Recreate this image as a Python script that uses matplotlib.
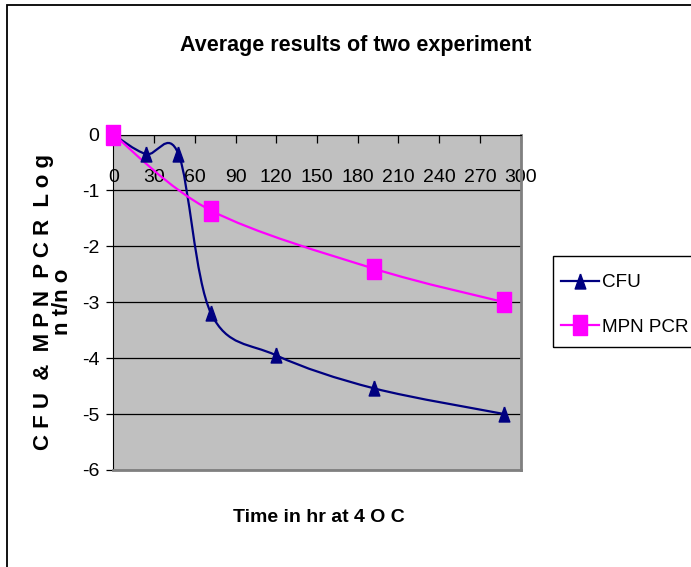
import numpy as np
import matplotlib.pyplot as plt
from matplotlib.path import Path
from matplotlib.patches import PathPatch, Rectangle
from matplotlib.lines import Line2D

plt.rcParams['font.family'] = ['Liberation Sans Narrow', 'Liberation Sans', 'DejaVu Sans']
plt.rcParams['axes.unicode_minus'] = False

hours_cfu = [0, 24, 48, 72, 120, 192, 288]
log_cfu = [0, -0.35, -0.35, -3.2, -3.95, -4.54, -5.0]
hours_pcr = [0, 72, 192, 288]
log_pcr = [0, -1.36, -2.4, -3.0]

x_ticks = list(range(0, 301, 30))
y_ticks = list(range(-6, 1))

W, H = 691, 567


def smooth_path(xs, ys):
    # excel-like smoothed line: cubic bezier, catmull-rom control points
    pts = np.column_stack([xs, ys]).astype(float)
    n = len(pts)
    verts = [pts[0]]
    codes = [Path.MOVETO]
    for i in range(n - 1):
        p0 = pts[max(i - 1, 0)]
        p1 = pts[i]
        p2 = pts[i + 1]
        p3 = pts[min(i + 2, n - 1)]
        verts += [p1 + (p2 - p0) / 6, p2 - (p3 - p1) / 6, p2]
        codes += [Path.CURVE4] * 3
    return Path(verts, codes)


tri = [(0, 1), (-0.71, -1), (0.71, -1), (0, 1)]
box = [(-0.7, -1), (0.7, -1), (0.7, 1), (-0.7, 1), (-0.7, -1)]

fig = plt.figure(figsize=(W / 100, H / 100), dpi=100)
ax = fig.add_axes([113.3 / W, 1 - 470 / H, (520.7 - 113.3) / W, (470 - 134.5) / H])
ax.set_facecolor('#C0C0C0')
ax.set_xlim(0, 300)
ax.set_ylim(-6, 0)
ax.set_xticks(x_ticks)
ax.set_yticks(y_ticks)
ax.yaxis.grid(True, color='black', lw=0.9)
ax.set_axisbelow(True)

ax.spines['bottom'].set_position(('data', 0))
ax.spines['bottom'].set_color('black')
ax.spines['left'].set_color('black')
ax.spines['top'].set_visible(False)
ax.spines['right'].set_color('#808080')
ax.spines['right'].set_linewidth(2)
ax.add_line(Line2D([0, 1], [0, 0], transform=ax.transAxes, color='#808080',
                   lw=2, clip_on=False, zorder=3))

ax.tick_params(axis='x', direction='out', length=6, width=0.9, pad=19, labelsize=14)
ax.tick_params(axis='y', direction='out', length=5, width=0.9, pad=5, labelsize=14)

ax.add_patch(PathPatch(smooth_path(hours_cfu, log_cfu), fill=False,
                       ec='#000080', lw=1.6, zorder=4))
ax.add_patch(PathPatch(smooth_path(hours_pcr, log_pcr), fill=False,
                       ec='#FF00FF', lw=1.6, zorder=4))
ax.plot(hours_cfu, log_cfu, ls='none', marker=tri, ms=10.8, color='#000080',
        zorder=5, clip_on=False)
ax.plot(hours_pcr, log_pcr, ls='none', marker=box, ms=14.4, color='#FF00FF',
        zorder=5, clip_on=False)

fig.text(356 / W, 1 - 46 / H, 'Average results of two experiment', ha='center',
         va='center', fontsize=15.5, fontweight='bold')
fig.text(319 / W, 1 - 518 / H, 'Time in hr at 4 O C', ha='center', va='center',
         fontsize=14, fontweight='bold')
fig.text(53 / W, 1 - 302 / H, 'C F U  &  M P N  P C R  L o g\nn t/n o',
         ha='center', va='center', rotation=90, fontsize=16,
         fontweight='bold', linespacing=0.9)

handles = [Line2D([], [], color='#000080', lw=1.6, marker=tri, ms=10.8),
           Line2D([], [], color='#FF00FF', lw=1.6, marker=box, ms=14.4)]
fig.legend(handles, ['CFU', 'MPN PCR'], loc='upper left',
           bbox_to_anchor=(561 / W, 1 - 274 / H), frameon=False, fontsize=13.6,
           borderpad=0, borderaxespad=0, handlelength=2.0, handletextpad=0.15,
           labelspacing=1.45)
fig.add_artist(Rectangle((553 / W, 1 - 347 / H), 0.3, 91 / H, fill=False,
                         ec='black', lw=1, transform=fig.transFigure))
fig.add_artist(Rectangle((7 / W, -0.1), 1.2, 1 - 5 / H + 0.1, fill=False,
                         ec='black', lw=1.3, transform=fig.transFigure))

fig.savefig('out.png', dpi=100)
